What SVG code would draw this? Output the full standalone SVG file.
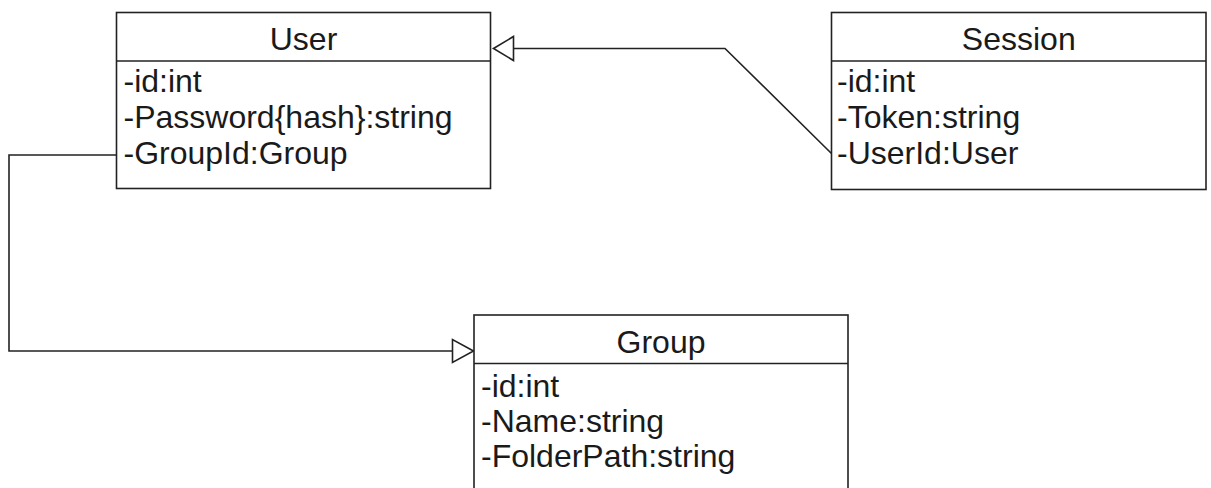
<svg xmlns="http://www.w3.org/2000/svg" width="1211" height="488" viewBox="0 0 1211 488">
  <defs>
    <style>
      .box { fill: #ffffff; stroke: #222222; stroke-width: 1.6; }
      .div { stroke: #222222; stroke-width: 1.6; }
      .title { font-family: "Liberation Sans", Arial, sans-serif; font-size: 32px; fill: #1a1a1a; text-anchor: middle; }
      .attr { font-family: "Liberation Sans", Arial, sans-serif; font-size: 32px; fill: #1a1a1a; }
      .edge { fill: none; stroke: #222222; stroke-width: 1.6; }
      .head { fill: #ffffff; stroke: #222222; stroke-width: 1.6; }
    </style>
  </defs>
  <rect width="1211" height="488" fill="#ffffff"/>

  <!-- connectors -->
  <g id="connectors">
    <!-- Session.UserId -> User -->
    <polyline class="edge" points="831.5,153.5 725,48.5 513,48.5"/>
    <polygon class="head" points="493.5,48.5 513.5,36.5 513.5,60.5"/>
    <!-- User.GroupId -> Group -->
    <polyline class="edge" points="116.5,155 9,155 9,351 452.5,351"/>
    <polygon class="head" points="473.5,351 452.5,339.5 452.5,362.5"/>
  </g>

  <!-- User class -->
  <g id="user">
    <rect class="box" x="116.5" y="12.5" width="374" height="176"/>
    <line class="div" x1="116.5" y1="61" x2="490.5" y2="61"/>
    <text class="title" x="303.5" y="50">User</text>
    <text class="attr" x="123.5" y="92">-id:int</text>
    <text class="attr" x="123.5" y="128">-Password{hash}:string</text>
    <text class="attr" x="123.5" y="163.5">-GroupId:Group</text>
  </g>

  <!-- Session class -->
  <g id="session">
    <rect class="box" x="831.5" y="12.5" width="374.5" height="177"/>
    <line class="div" x1="831.5" y1="61" x2="1206" y2="61"/>
    <text class="title" x="1018.75" y="50">Session</text>
    <text class="attr" x="837" y="92">-id:int</text>
    <text class="attr" x="837" y="128">-Token:string</text>
    <text class="attr" x="837" y="164">-UserId:User</text>
  </g>

  <!-- Group class -->
  <g id="group">
    <rect class="box" x="474" y="315" width="374" height="190"/>
    <line class="div" x1="474" y1="363.5" x2="848" y2="363.5"/>
    <text class="title" x="661" y="353">Group</text>
    <text class="attr" x="481" y="396.5">-id:int</text>
    <text class="attr" x="481" y="431.5">-Name:string</text>
    <text class="attr" x="481" y="466.5">-FolderPath:string</text>
  </g>
</svg>
